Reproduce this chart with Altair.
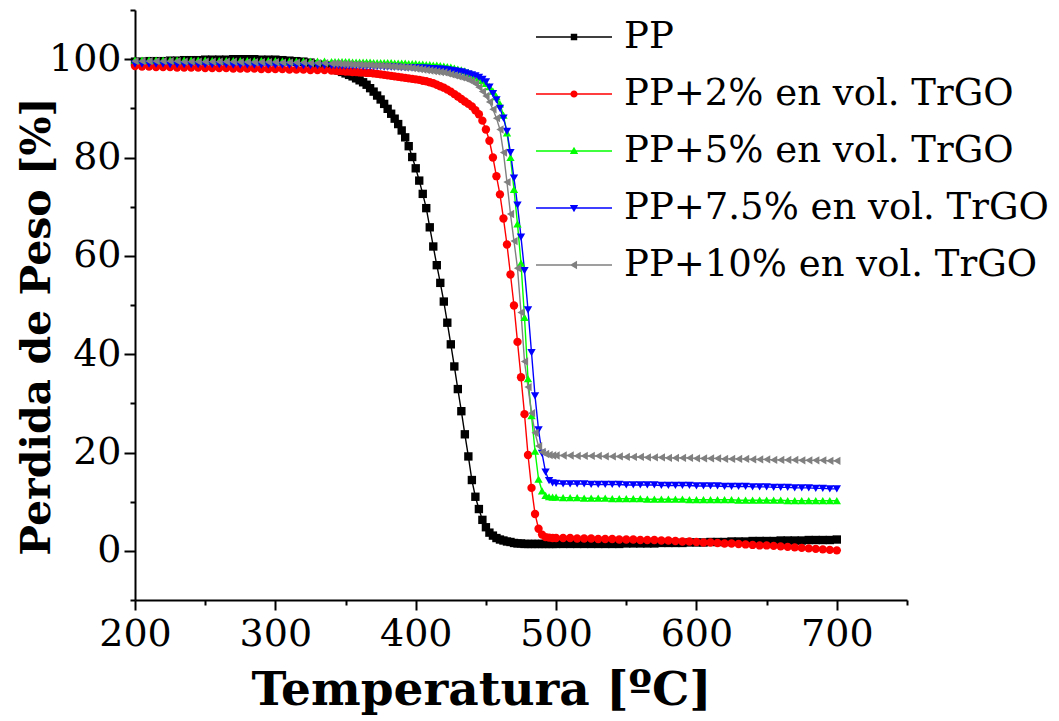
import altair as alt
import pandas as pd

# ---------------- data ----------------
temperatura = [
    200, 205, 210, 215, 220, 225, 230, 235, 240, 245,
    250, 255, 260, 265, 270, 275, 280, 285, 290, 295,
    300, 305, 310, 315, 320, 325, 330, 335,
    340, 342.5, 345, 347.5, 350, 352.5, 355, 357.5, 360, 362.5,
    365, 367.5, 370, 372.5, 375, 377.5, 380, 382.5, 385, 387.5,
    390, 392.5, 395, 397.5, 400, 402.5, 405, 407.5, 410, 412.5,
    415, 417.5, 420, 422.5, 425, 427.5, 430, 432.5, 435, 437.5,
    440, 442.5, 445, 447.5, 450, 452.5, 455, 457.5, 460, 462.5,
    465, 467.5, 470, 472.5, 475, 477.5, 480, 482.5, 485, 487.5,
    490, 492.5, 495, 497.5,
    500, 505, 510, 515, 520, 525, 530, 535, 540, 545,
    550, 555, 560, 565, 570, 575, 580, 585, 590, 595,
    600, 605, 610, 615, 620, 625, 630, 635, 640, 645,
    650, 655, 660, 665, 670, 675, 680, 685, 690, 695,
    700,
]

peso_pp = [
    99.5, 99.5, 99.6, 99.6, 99.6, 99.7, 99.7, 99.8, 99.8, 99.8,
    99.9, 99.9, 99.9, 99.9, 100.0, 100.0, 100.0, 100.0, 99.9, 99.9,
    99.9, 99.8, 99.7, 99.6, 99.5, 99.3, 99.0, 98.7,
    98.3, 98.0, 97.7, 97.4, 97.1, 96.8, 96.5, 96.1, 95.7, 95.3,
    94.8, 94.1, 93.4, 92.6, 91.8, 90.9, 89.9, 88.9, 87.9, 86.8,
    85.5, 84.1, 82.3, 80.1, 77.8, 75.3, 72.6, 69.7, 65.8, 61.9,
    58.1, 54.5, 50.7, 46.4, 42.0, 37.5, 32.9, 28.4, 23.7, 19.2,
    14.4, 11.0, 8.5, 6.3, 4.8, 3.7, 3.1, 2.6, 2.3, 2.1,
    1.9, 1.8, 1.6, 1.5, 1.5, 1.4, 1.4, 1.4, 1.4, 1.4,
    1.4, 1.4, 1.4, 1.4,
    1.4, 1.4, 1.4, 1.4, 1.4, 1.4, 1.4, 1.4, 1.4, 1.4,
    1.5, 1.5, 1.5, 1.5, 1.5, 1.6, 1.6, 1.6, 1.6, 1.7,
    1.7, 1.7, 1.8, 1.8, 1.8, 1.9, 1.9, 1.9, 2.0, 2.0,
    2.0, 2.0, 2.1, 2.1, 2.1, 2.1, 2.2, 2.2, 2.2, 2.2,
    2.3,
]

peso_pp2 = [
    98.6, 98.5, 98.5, 98.4, 98.4, 98.4, 98.3, 98.3, 98.3, 98.3,
    98.2, 98.2, 98.2, 98.2, 98.1, 98.1, 98.1, 98.1, 98.0, 98.0,
    98.0, 98.0, 97.9, 97.9, 97.9, 97.8, 97.8, 97.8,
    97.7, 97.7, 97.6, 97.6, 97.5, 97.5, 97.4, 97.4, 97.3, 97.3,
    97.2, 97.2, 97.1, 97.0, 96.9, 96.8, 96.7, 96.6, 96.5, 96.4,
    96.3, 96.2, 96.1, 96.0, 95.9, 95.8, 95.6, 95.5, 95.3, 95.1,
    94.8, 94.5, 94.2, 93.8, 93.4, 92.9, 92.4, 91.9, 91.4, 90.9,
    90.4, 89.6, 88.8, 87.5, 85.7, 83.4, 80.0, 76.2, 72.5, 67.6,
    62.3, 56.2, 49.9, 42.5, 35.3, 27.8, 19.5, 12.8, 7.5, 4.5,
    3.3, 2.8, 2.7, 2.6,
    2.6, 2.6, 2.6, 2.5, 2.5, 2.5, 2.4, 2.4, 2.4, 2.3,
    2.3, 2.3, 2.2, 2.2, 2.2, 2.1, 2.1, 2.0, 1.9, 1.9,
    1.8, 1.7, 1.7, 1.6, 1.5, 1.5, 1.4, 1.3, 1.2, 1.1,
    1.1, 1.0, 0.9, 0.8, 0.7, 0.6, 0.5, 0.4, 0.3, 0.2,
    0.1,
]

peso_pp5 = [
    99.8, 99.8, 99.8, 99.8, 99.8, 99.8, 99.8, 99.8, 99.8, 99.8,
    99.8, 99.7, 99.7, 99.7, 99.7, 99.7, 99.7, 99.7, 99.7, 99.7,
    99.7, 99.6, 99.6, 99.6, 99.6, 99.6, 99.6, 99.6,
    99.5, 99.5, 99.5, 99.5, 99.5, 99.5, 99.4, 99.4, 99.4, 99.4,
    99.4, 99.4, 99.3, 99.3, 99.3, 99.3, 99.3, 99.3, 99.2, 99.2,
    99.2, 99.2, 99.1, 99.1, 99.1, 99.0, 99.0, 98.9, 98.9, 98.8,
    98.8, 98.7, 98.6, 98.5, 98.4, 98.2, 98.0, 97.8, 97.6, 97.3,
    97.0, 96.6, 96.2, 95.7, 95.1, 94.4, 93.5, 92.4, 90.9, 88.6,
    85.0, 80.0, 73.5, 66.5, 58.5, 47.5, 35.0, 27.5, 20.3, 14.6,
    12.2, 11.3, 11.0, 10.9,
    10.9, 10.8, 10.8, 10.8, 10.7, 10.7, 10.7, 10.7, 10.6, 10.6,
    10.6, 10.6, 10.6, 10.5, 10.5, 10.5, 10.5, 10.5, 10.5, 10.4,
    10.4, 10.4, 10.4, 10.4, 10.4, 10.4, 10.3, 10.3, 10.3, 10.3,
    10.3, 10.3, 10.3, 10.2, 10.2, 10.2, 10.2, 10.2, 10.2, 10.2,
    10.2,
]

peso_pp75 = [
    99.0, 99.0, 99.0, 99.0, 99.0, 98.9, 98.9, 98.9, 98.9, 98.9,
    98.9, 98.9, 98.9, 98.9, 98.8, 98.8, 98.8, 98.8, 98.8, 98.8,
    98.8, 98.8, 98.8, 98.7, 98.7, 98.7, 98.7, 98.7,
    98.7, 98.7, 98.7, 98.6, 98.6, 98.6, 98.6, 98.6, 98.6, 98.5,
    98.5, 98.5, 98.5, 98.5, 98.5, 98.4, 98.4, 98.4, 98.4, 98.4,
    98.3, 98.3, 98.3, 98.3, 98.3, 98.2, 98.2, 98.2, 98.1, 98.1,
    98.0, 98.0, 97.9, 97.8, 97.7, 97.6, 97.5, 97.4, 97.2, 97.0,
    96.8, 96.6, 96.3, 95.9, 95.4, 94.3, 93.0, 91.7, 90.0, 88.0,
    85.3, 81.0, 75.8, 70.3, 63.8, 57.0, 49.0, 40.3, 31.5, 24.6,
    19.8, 16.0, 14.3, 13.8,
    13.7, 13.6, 13.6, 13.6, 13.6, 13.5, 13.5, 13.5, 13.5, 13.5,
    13.4, 13.4, 13.4, 13.4, 13.4, 13.3, 13.3, 13.3, 13.3, 13.3,
    13.2, 13.2, 13.2, 13.2, 13.1, 13.1, 13.1, 13.1, 13.0, 13.0,
    13.0, 12.9, 12.9, 12.9, 12.8, 12.8, 12.8, 12.7, 12.7, 12.6,
    12.6,
]

peso_pp10 = [
    99.6, 99.6, 99.6, 99.6, 99.6, 99.6, 99.6, 99.5, 99.5, 99.5,
    99.5, 99.5, 99.5, 99.5, 99.5, 99.4, 99.4, 99.4, 99.4, 99.4,
    99.4, 99.3, 99.3, 99.3, 99.3, 99.2, 99.2, 99.2,
    99.1, 99.1, 99.1, 99.0, 99.0, 99.0, 98.9, 98.9, 98.9, 98.8,
    98.8, 98.8, 98.7, 98.7, 98.7, 98.6, 98.6, 98.5, 98.5, 98.4,
    98.4, 98.3, 98.3, 98.2, 98.1, 98.0, 97.9, 97.8, 97.7, 97.6,
    97.5, 97.4, 97.3, 97.1, 96.9, 96.7, 96.5, 96.3, 96.1, 95.8,
    95.5, 95.0, 94.3, 93.4, 92.5, 91.3, 89.8, 88.0, 85.7, 81.0,
    75.0, 68.5, 63.0, 57.5, 48.5, 38.5, 33.3, 28.0, 24.0, 21.3,
    20.1, 19.7, 19.5, 19.4,
    19.4, 19.4, 19.4, 19.3, 19.3, 19.3, 19.3, 19.2, 19.2, 19.2,
    19.1, 19.1, 19.1, 19.0, 19.0, 19.0, 18.9, 18.9, 18.9, 18.9,
    18.8, 18.8, 18.8, 18.8, 18.7, 18.7, 18.7, 18.7, 18.6, 18.6,
    18.6, 18.5, 18.5, 18.5, 18.5, 18.4, 18.4, 18.4, 18.4, 18.3,
    18.3,
]

series_names = [
    "PP",
    "PP+2% en vol. TrGO",
    "PP+5% en vol. TrGO",
    "PP+7.5% en vol. TrGO",
    "PP+10% en vol. TrGO",
]
series_values = [peso_pp, peso_pp2, peso_pp5, peso_pp75, peso_pp10]
series_colors = ["#000000", "#ff0000", "#00ff00", "#0000ff", "#808080"]
series_shapes = ["square", "circle", "triangle-up", "triangle-down", "triangle-left"]

x_tick_values = [200, 250, 300, 350, 400, 450, 500, 550, 600, 650, 700, 750]
y_tick_values = [-10, 0, 10, 20, 30, 40, 50, 60, 70, 80, 90, 100, 110]

for v in series_values:
    assert len(v) == len(temperatura), len(v)

rows = []
for name, vals in zip(series_names, series_values):
    for t, w in zip(temperatura, vals):
        rows.append({"T": t, "W": w, "Serie": name})
df = pd.DataFrame(rows)

# legend glyphs: a line with the marker in the middle (unit box -1..1)
line_part = "M-1,-0.018H1V0.018H-1Z"
legend_paths = [
    line_part + "M-0.085,-0.085H0.085V0.085H-0.085Z",
    line_part + "M-0.095,0A0.095,0.095,0,1,1,0.095,0A0.095,0.095,0,1,1,-0.095,0Z",
    line_part + "M0,-0.11L0.11,0.08L-0.11,0.08Z",
    line_part + "M0,0.11L-0.11,-0.08L0.11,-0.08Z",
    line_part + "M-0.11,0L0.08,-0.11L0.08,0.11Z",
]

FONT = "DejaVu Serif"

x_enc = alt.X(
    "T:Q",
    scale=alt.Scale(domain=[200, 750], nice=False, zero=False),
    axis=alt.Axis(
        title="Temperatura [ºC]",
        values=x_tick_values,
        labelExpr="datum.value % 100 === 0 ? datum.label : ''",
        tickSize={"condition": {"test": "datum.value % 100 === 0", "value": 10}, "value": 5},
        labelFont=FONT, labelFontSize=38, labelColor="black", labelPadding=5,
        labelFlush=False, labelOverlap=False,
        titleFont=FONT, titleFontSize=47, titleFontWeight="bold", titleColor="black",
        titleX=346, titleY=104, titleBaseline="alphabetic", titleAlign="center",
        grid=False, domainColor="black", domainWidth=2, tickColor="black", tickWidth=2,
    ),
)
y_enc = alt.Y(
    "W:Q",
    scale=alt.Scale(domain=[-10, 110], nice=False, zero=False),
    axis=alt.Axis(
        title="Perdida de Peso [%]",
        values=y_tick_values,
        labelExpr="(datum.value % 20 === 0 && datum.value >= 0 && datum.value <= 100) ? datum.label : ''",
        tickSize={"condition": {"test": "datum.value % 20 === 0 && datum.value >= 0 && datum.value <= 100", "value": 11}, "value": 5},
        labelFont=FONT, labelFontSize=38, labelColor="black", labelPadding=3,
        labelOverlap=False,
        titleFont=FONT, titleFontSize=41, titleFontWeight="bold", titleColor="black",
        titleX=-86, titleY=316, titleAngle=270, titleBaseline="alphabetic", titleAlign="center",
        grid=False, domainColor="black", domainWidth=2, tickColor="black", tickWidth=2,
    ),
)

color_scale = alt.Scale(domain=series_names, range=series_colors)

base = alt.Chart(df)

lines = base.mark_line(strokeWidth=1.4).encode(
    x=x_enc, y=y_enc,
    color=alt.Color("Serie:N", scale=color_scale, legend=None),
    detail="Serie:N",
)

points = base.mark_point(filled=True, opacity=1, size=70).encode(
    x=x_enc, y=y_enc,
    color=alt.Color("Serie:N", scale=color_scale, legend=None),
    shape=alt.Shape("Serie:N", scale=alt.Scale(domain=series_names, range=series_shapes), legend=None),
)

legend_kw = dict(
    title=None, orient="none", legendX=401, legendY=2,
    labelFont=FONT, labelFontSize=37, labelColor="black", labelLimit=600,
    symbolSize=5776, symbolStrokeWidth=0, symbolOpacity=1, labelOffset=12,
    clipHeight=50, rowPadding=7,
)
legend_layer = base.mark_point(filled=True, opacity=1).transform_filter(
    "datum.T < 0"
).encode(
    color=alt.Color("Serie:N", scale=alt.Scale(domain=series_names, range=series_colors),
                    legend=alt.Legend(**legend_kw)),
    shape=alt.Shape("Serie:N", scale=alt.Scale(domain=series_names, range=legend_paths),
                    legend=alt.Legend(**legend_kw)),
)

chart = alt.layer(lines, points, legend_layer).resolve_scale(
    color="independent", shape="independent"
).properties(
    width=772, height=590,
    autosize=alt.AutoSizeParams(type="none"),
    padding={"left": 127, "top": 2, "right": 143, "bottom": 117},
).configure_view(stroke=None)

chart.save("out.html", embed_options={"renderer": "svg", "actions": False})
